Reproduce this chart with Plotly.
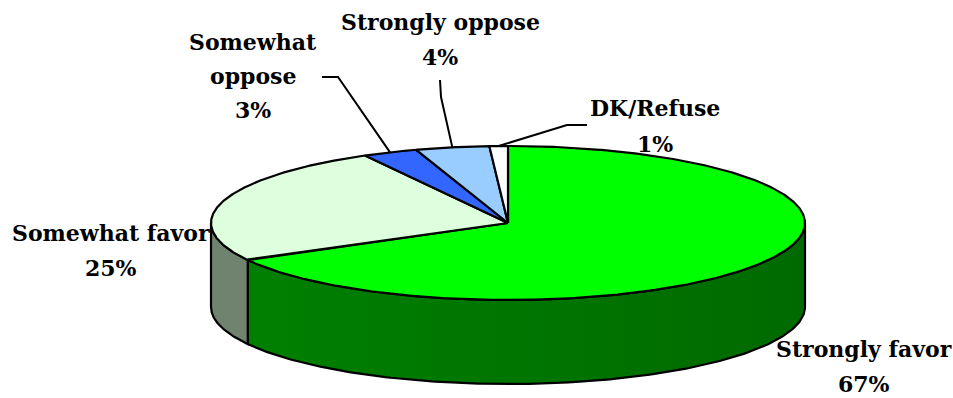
import numpy as np
import plotly.graph_objects as go

# ---- data ----
labels = ["Strongly favor", "Somewhat favor", "Somewhat oppose", "Strongly oppose", "DK/Refuse"]
values = [67, 25, 3, 4, 1]
pct_text = ["67%", "25%", "3%", "4%", "1%"]
label_lines = [["Strongly favor"], ["Somewhat favor"], ["Somewhat", "oppose"], ["Strongly oppose"], ["DK/Refuse"]]

# ---- styles ----
top_colors = ["#00FF00", "#DDFFDD", "#3366FF", "#99CCFF", "#FFFFFF"]
side_colors = [["#008000", "#006A00"], ["#6F836F", "#6F836F"], ["#2244BB", "#2244BB"],
               ["#6688AA", "#6688AA"], ["#CCCCCC", "#CCCCCC"]]
# label layout: x centre, y of first line; leader elbow/end (None = no leader)
label_pos = [(864, 349), (111, 233), (253, 42), (440, 22), (655, 108)]
line_gaps = [35, 35, 34, 35, 36]
leaders = [None, None, [(338, 77), (322, 77)], [(441, 97), (440, 80)], [(567, 125), (587, 125)]]

W, H = 953, 398
cx, cy, rx, ry, depth = 508, 223, 297, 77, 84
FONT = dict(family="DejaVu Serif", size=22, color="#000000")

total = float(sum(values))
cum = np.concatenate([[0.0], np.cumsum(values)]) / total * 360.0


def ell(theta_deg, dy=0.0):
    t = np.radians(theta_deg)
    return cx + rx * np.sin(t), cy - ry * np.cos(t) + dy


fig = go.Figure()

# side walls (front half visible: 90..270 deg clockwise from top)
for i in range(len(values)):
    a, b = max(cum[i], 90.0), min(cum[i + 1], 270.0)
    if a >= b:
        continue
    th = np.linspace(a, b, 200)
    xt, yt = ell(th)
    xb, yb = ell(th[::-1], depth)
    xs = np.concatenate([xt, xb, xt[:1]])
    ys = np.concatenate([yt, yb, yt[:1]])
    fig.add_trace(go.Scatter(
        x=xs, y=ys, mode="lines", fill="toself",
        fillcolor=side_colors[i][0],
        fillgradient=dict(type="horizontal",
                          colorscale=[[0, side_colors[i][0]], [1, side_colors[i][1]]]),
        line=dict(color="black", width=2.2), hoverinfo="skip", showlegend=False))

# top face slices
for i in range(len(values)):
    n = max(int((cum[i + 1] - cum[i]) * 3), 10)
    th = np.linspace(cum[i], cum[i + 1], n)
    xe, ye = ell(th)
    xs = np.concatenate([[cx], xe, [cx]])
    ys = np.concatenate([[cy], ye, [cy]])
    fig.add_trace(go.Scatter(
        x=xs, y=ys, mode="lines", fill="toself", fillcolor=top_colors[i],
        line=dict(color="black", width=2.2), hoverinfo="skip", showlegend=False,
        name=labels[i]))

# leader lines
for i in range(len(values)):
    if leaders[i] is None:
        continue
    mid = (cum[i] + cum[i + 1]) / 2
    x0, y0 = ell(mid)
    xs = [x0] + [p[0] for p in leaders[i]]
    ys = [y0] + [p[1] for p in leaders[i]]
    fig.add_trace(go.Scatter(x=xs, y=ys, mode="lines", line=dict(color="black", width=2),
                             hoverinfo="skip", showlegend=False))

# labels
annotations = []
for i in range(len(values)):
    x, y = label_pos[i]
    lines = label_lines[i] + [pct_text[i]]
    for k, t in enumerate(lines):
        yy = y + k * line_gaps[i]
        annotations.append(dict(x=x, y=yy, xref="x", yref="y", text="<b>%s</b>" % t,
                                showarrow=False, xanchor="center", yanchor="middle",
                                font=FONT))

fig.update_layout(
    width=W, height=H, margin=dict(l=0, r=0, t=0, b=0),
    paper_bgcolor="white", plot_bgcolor="white",
    xaxis=dict(range=[0, W], visible=False, fixedrange=True),
    yaxis=dict(range=[H, 0], visible=False, fixedrange=True),
    annotations=annotations, showlegend=False)

fig.write_html("out.html")
